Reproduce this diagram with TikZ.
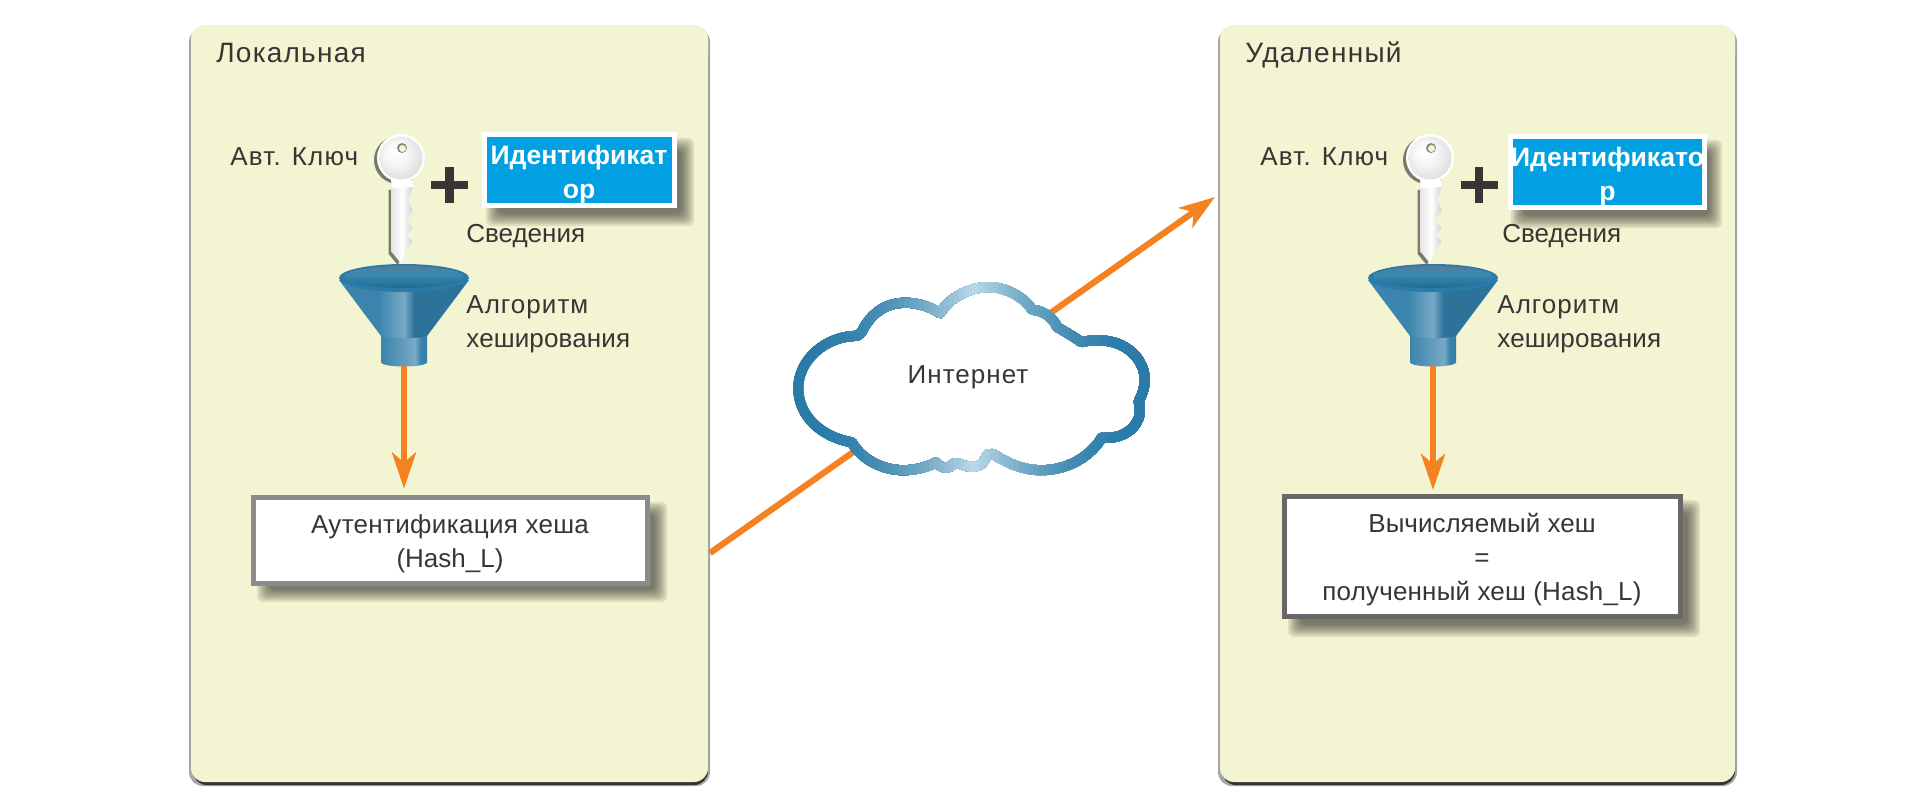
\documentclass[tikz,border=0pt]{standalone}
\usepackage{fontspec}
\setmainfont{Liberation Sans}
\usetikzlibrary{arrows.meta}
\definecolor{panelc}{HTML}{F3F4D1}
\definecolor{inkc}{HTML}{3A3435}
\definecolor{arrowc}{HTML}{F58220}
\definecolor{bluec}{HTML}{00A0E3}
\definecolor{cdark}{HTML}{2A7BA8}
\definecolor{clight}{HTML}{BDD9E7}
\definecolor{f1}{HTML}{3A84AD}
\definecolor{f2}{HTML}{78A9C6}
\definecolor{f3}{HTML}{2C7299}
\definecolor{f4}{HTML}{3C6A86}
\definecolor{f5}{HTML}{17608A}
\definecolor{f6}{HTML}{2B7BA8}
\definecolor{f7}{HTML}{507F9B}
\definecolor{f8}{HTML}{1E6A94}
\definecolor{f9}{HTML}{3A88B0}
\pgfdeclarehorizontalshading{coneshade}{100bp}{color(0bp)=(f1);color(25bp)=(f1);color(40bp)=(f1);color(50bp)=(f2);color(54bp)=(f3);color(75bp)=(f3);color(100bp)=(f4)}
\pgfdeclarehorizontalshading{stemshade}{100bp}{color(0bp)=(f1);color(25bp)=(f1);color(62bp)=(f2);color(68bp)=(f1);color(100bp)=(f5)}
\pgfdeclareverticalshading{bowlshade}{100bp}{color(0bp)=(f8);color(25bp)=(f8);color(55bp)=(f9);color(75bp)=(f7);color(100bp)=(f7)}
\pgfdeclarehorizontalshading{shaftshade}{100bp}{color(0bp)=(white!90!black);color(25bp)=(white!90!black);color(50bp)=(white);color(75bp)=(white!82!black);color(100bp)=(white!82!black)}
\pgfdeclareradialshading{headshade}{\pgfpoint{-8bp}{8bp}}{color(0bp)=(white);color(12bp)=(white!97!black);color(32bp)=(white!86!black);color(50bp)=(white!80!black)}
\newcommand{\softshade}[5]{%
  \foreach \d in {6,4,2,0,-2,-4,-6}{%
    \fill[black,opacity=#5,rounded corners=3] (#1-\d,#2-\d) rectangle (#3+\d,#4+\d);}}
\newcommand{\keyoutline}{%
  (-12.3,-90) -- (-12.3,-26) -- (-3.3,-15) -- (5.3,-31) -- (8.7,-37) -- (2.7,-43) -- (8.7,-50) -- (2.7,-58) -- (8.7,-68) -- (4.3,-78) -- (8.7,-91) -- cycle}
\newcommand{\spc}[1]{\addfontfeatures{LetterSpace=#1}}
\tikzset{
  txt/.style={text=inkc,inner sep=0pt,anchor=base west,font=\fontsize{13}{17}\selectfont},
  ctxt/.style={txt,anchor=base,align=center},
  idbox/.style={draw=white,line width=2.5pt,fill=bluec,inner sep=0pt},
  idtext/.style={text=white,align=center,inner sep=0pt,font=\fontsize{13.3}{17}\selectfont\bfseries},
  hashbox/.style={fill=white,inner sep=0pt},
  hashtext/.style={text=inkc,align=center,inner sep=0pt,font=\fontsize{13}{17}\selectfont},
  link/.style={draw=arrowc,line width=3.1pt},
  linkarrow/.style={link,-{Stealth[length=18pt,width=12pt,inset=5pt]}},
  plusbar/.style={draw=inkc,line width=4.3pt},
  keyfunnel/.pic={
    % key
    \fill[black!50!panelc] ([xshift=-1.5pt,yshift=-1pt]-3,-120) circle[radius=24];
    \fill[black!50!panelc,xshift=-1.5pt,yshift=-1pt] \keyoutline;
    \fill[white] (-3,-120) circle[radius=24];
    \shade[shading=headshade] (-3,-120) circle[radius=21.5];
    \fill[black!45!panelc] (-2,-130) circle[radius=5];
    \fill[panelc] (-1.5,-129.5) circle[radius=3.5];
    \fill[white] (-13,-98) -- (8,-98) -- (9,-90) -- (-12,-90) -- cycle;
    \shade[shading=shaftshade] \keyoutline;
    % funnel
    \shade[shading=stemshade] (-23,55) -- (-23,84) .. controls (-23,90) and (23,90) .. (23,84) -- (23,55) -- cycle;
    \shade[shading=coneshade] (-65,2) -- (-23,58) .. controls (-10,61) and (10,61) .. (23,58) -- (65,2) -- cycle;
    \fill[f6] (0,0) ellipse[x radius=65,y radius=14];
    \shade[shading=bowlshade] (0,-1) ellipse[x radius=60,y radius=11];
  }
}
\begin{document}
\begin{tikzpicture}[x=0.5pt,y=-0.5pt]
\useasboundingbox (0,0) rectangle (1920,809);
\fill[white] (0,0) rectangle (1920,809);

% panels
\foreach \px/\qx in {191/708,1220/1735}{
  \fill[black!35,rounded corners=7] (\px-2,28) rectangle (\qx+2,786);
  \fill[black!80,rounded corners=7] (\px+2,40) rectangle (\qx,785);
  \fill[panelc,rounded corners=7] (\px,25) rectangle (\qx,782);
}

% shadows
\softshade{492}{144}{688}{220}{0.09}
\softshade{1517}{146}{1716}{222}{0.09}
\softshade{263}{508}{661}{596}{0.09}
\softshade{1294}{506}{1694}{631}{0.09}

% coordinates of the links
\coordinate (netstart) at (710,553);
\coordinate (netend) at (1215,197);
\coordinate (funnelL) at (404,366);
\coordinate (funnelR) at (1433,366);

% boxes and labels
\node[hashbox,draw=black!45,line width=2.5pt,minimum width=197pt,minimum height=43pt] (hashL) at (450,540) {};
\node[hashtext] (hashLt) at (450,544) {\spc{1.2}Аутентификация хеша\\(Hash\_L)};
\node[hashbox,draw=inkc!75,line width=2.5pt,minimum width=198pt,minimum height=60pt] (hashR) at (1482,556.5) {};
\node[hashtext] (hashRt) at (1482,560) {Вычисляемый хеш\\=\\\spc{0.7}полученный хеш (Hash\_L)};
\node[idbox,minimum width=95pt,minimum height=35.5pt] (idL) at (579,170) {};
\node[idtext] (idLt) at (579,175) {Идентификат\\ор};
\node[idbox,minimum width=97pt,minimum height=35.5pt] (idR) at (1607.5,172) {};
\node[idtext] (idRt) at (1607.5,177) {Идентификато\\р};

\pic at (404,278) {keyfunnel};
\pic at (1433,278) {keyfunnel};

\draw[linkarrow,shorten >=3pt] (funnelL) -- (hashL.north -| funnelL);
\draw[linkarrow,shorten >=2pt] (funnelR) -- (hashR.north -| funnelR);
\draw[linkarrow] (netstart) -- (netend);

% plus signs
\draw[plusbar] (431,185) -- (468,185) (449.5,167) -- (449.5,203);
\draw[plusbar] (1460.5,185) -- (1497.5,185) (1479,167) -- (1479,203);

% cloud
\begin{scope}[shift={(700,165)},x=0.17857pt,y=-0.1744pt]
\newcommand{\cloudpath}{(275,640) .. controls (275,560) and (350,490) .. (440,490)
  -- (452,480) .. controls (480,420) and (525,395) .. (575,395)
  .. controls (615,395) and (650,410) .. (672,425)
  .. controls (700,380) and (750,352) .. (805,350)
  .. controls (860,350) and (905,378) .. (930,415)
  .. controls (965,418) and (990,440) .. (1000,465)
  .. controls (1030,482) and (1050,495) .. (1068,508)
  .. controls (1085,503) and (1100,503) .. (1120,503)
  .. controls (1190,503) and (1245,555) .. (1245,615)
  .. controls (1245,640) and (1238,660) .. (1228,678)
  .. controls (1245,730) and (1205,782) .. (1140,782)
  -- (1125,782) .. controls (1090,840) and (1025,875) .. (955,875)
  .. controls (905,875) and (860,855) .. (820,828)
  -- (805,830) .. controls (795,855) and (785,865) .. (760,865)
  .. controls (745,865) and (732,858) .. (720,855)
  .. controls (708,850) and (705,868) .. (690,868)
  .. controls (678,868) and (670,862) .. (660,853)
  .. controls (630,868) and (600,875) .. (570,875)
  .. controls (505,875) and (450,840) .. (425,795)
  .. controls (340,780) and (275,720) .. (275,640) -- cycle}
\fill[white] \cloudpath;
\foreach \i in {0,...,78}{
  \pgfmathsetmacro\zx{220+14*\i}
  \pgfmathsetmacro\tv{min(1,abs(\zx-760)/480)}
  \pgfmathsetmacro\mixv{100*\tv*(2-\tv)}
  \colorlet{cstrip}{cdark!\mixv!clight}
  \begin{scope}
    \clip (\zx,250) rectangle (1400,950);
    \draw[cstrip,line width=5pt,line join=round] \cloudpath;
  \end{scope}
}
\end{scope}
\node[ctxt] (net) at (968,383) {\spc{4}Интернет};

\node[txt,font=\fontsize{14}{17}\selectfont] (lblL) at (216,62) {\spc{4.4}Локальная};
\node[txt] (akL) at (230,165) {\spc{4.5}Авт. Ключ};
\node[txt] (svL) at (466,242) {Сведения};
\node[txt] (alL) at (466,313) {\spc{4}Алгоритм};
\node[txt] (heL) at (466,347) {\spc{0.5}хеширования};

\node[txt,font=\fontsize{14}{17}\selectfont] (lblR) at (1245,62) {\spc{4.5}Удаленный};
\node[txt] (akR) at (1260,165) {\spc{4.5}Авт. Ключ};
\node[txt] (svR) at (1502,242) {Сведения};
\node[txt] (alR) at (1497,313) {\spc{4}Алгоритм};
\node[txt] (heR) at (1497,347) {\spc{0.5}хеширования};
\end{tikzpicture}
\end{document}
